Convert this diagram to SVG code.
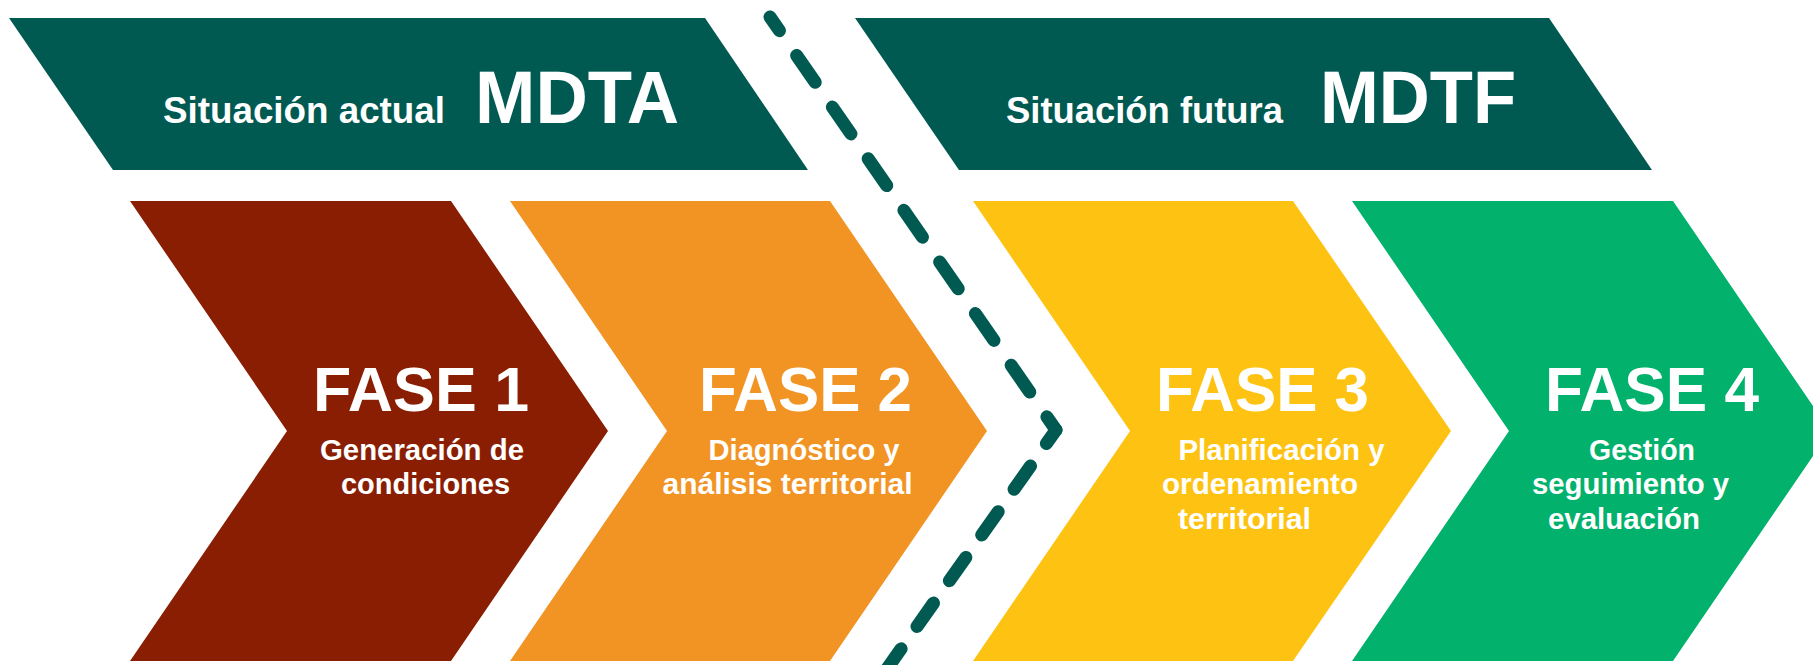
<svg xmlns="http://www.w3.org/2000/svg" width="1813" height="665" viewBox="0 0 1813 665">
  <style>
    text { font-family: "Liberation Sans", Arial, sans-serif; font-weight: bold; fill: #FFFFFF; }
    .sub { font-size: 36px; }
    .code { font-size: 74px; }
    .fase { font-size: 63px; }
    .desc { font-size: 29px; }
    .banner { fill: #005A52; }
    .dash { fill: none; stroke: #005A52; stroke-width: 13; stroke-linecap: round; }
  </style>
  <rect width="1813" height="665" fill="#FFFFFF"/>

  <g id="banner-actual">
    <polygon class="banner" points="9,18 705,18 808,170 113,170"/>
    <text class="sub" x="163" y="122.7" textLength="282" lengthAdjust="spacingAndGlyphs">Situación actual</text>
    <text class="code" x="475" y="122.7" textLength="204" lengthAdjust="spacingAndGlyphs">MDTA</text>
  </g>

  <g id="banner-futura">
    <polygon class="banner" points="855,18 1549,18 1652,170 959,170"/>
    <text class="sub" x="1006" y="122.7" textLength="277" lengthAdjust="spacingAndGlyphs">Situación futura</text>
    <text class="code" x="1320" y="122.7" textLength="196" lengthAdjust="spacingAndGlyphs">MDTF</text>
  </g>

  <g id="fase1">
    <polygon fill="#8A1E03" points="130,201 451,201 608,431 451,661 130,661 287,431"/>
    <text class="fase" x="313" y="411" textLength="216" lengthAdjust="spacingAndGlyphs">FASE 1</text>
    <text class="desc" x="320" y="459.5" textLength="204" lengthAdjust="spacingAndGlyphs">Generación de</text>
    <text class="desc" x="341" y="494" textLength="169" lengthAdjust="spacingAndGlyphs">condiciones</text>
  </g>

  <g id="fase2">
    <polygon fill="#F29424" points="510,201 830,201 987,431 830,661 510,661 667,431"/>
    <text class="fase" x="699" y="411" textLength="213" lengthAdjust="spacingAndGlyphs">FASE 2</text>
    <text class="desc" x="708.5" y="459.5" textLength="191" lengthAdjust="spacingAndGlyphs">Diagnóstico y</text>
    <text class="desc" x="662.5" y="494" textLength="250" lengthAdjust="spacingAndGlyphs">análisis territorial</text>
  </g>

  <g id="fase3">
    <polygon fill="#FEC312" points="973,201 1293,201 1451,431 1293,661 973,661 1130,431"/>
    <text class="fase" x="1156" y="411" textLength="213" lengthAdjust="spacingAndGlyphs">FASE 3</text>
    <text class="desc" x="1178.5" y="459.5" textLength="206" lengthAdjust="spacingAndGlyphs">Planificación y</text>
    <text class="desc" x="1162" y="494" textLength="196" lengthAdjust="spacingAndGlyphs">ordenamiento</text>
    <text class="desc" x="1178" y="529" textLength="133" lengthAdjust="spacingAndGlyphs">territorial</text>
  </g>

  <g id="fase4">
    <polygon fill="#02B16C" points="1352,201 1673,201 1830,431 1673,661 1352,661 1509,431"/>
    <text class="fase" x="1545" y="411" textLength="214" lengthAdjust="spacingAndGlyphs">FASE 4</text>
    <text class="desc" x="1589" y="459.5" textLength="106" lengthAdjust="spacingAndGlyphs">Gestión</text>
    <text class="desc" x="1532" y="494" textLength="197" lengthAdjust="spacingAndGlyphs">seguimiento y</text>
    <text class="desc" x="1548" y="529" textLength="152" lengthAdjust="spacingAndGlyphs">evaluación</text>
  </g>

  <g id="connectors">
    <path class="dash" d="M770,17 L1056,430" stroke-dasharray="32.6 30.2" stroke-dashoffset="16"/>
    <path class="dash" d="M1056,430 L884,673" stroke-dasharray="28.5 27.5" stroke-dashoffset="11.9"/>
  </g>
</svg>
